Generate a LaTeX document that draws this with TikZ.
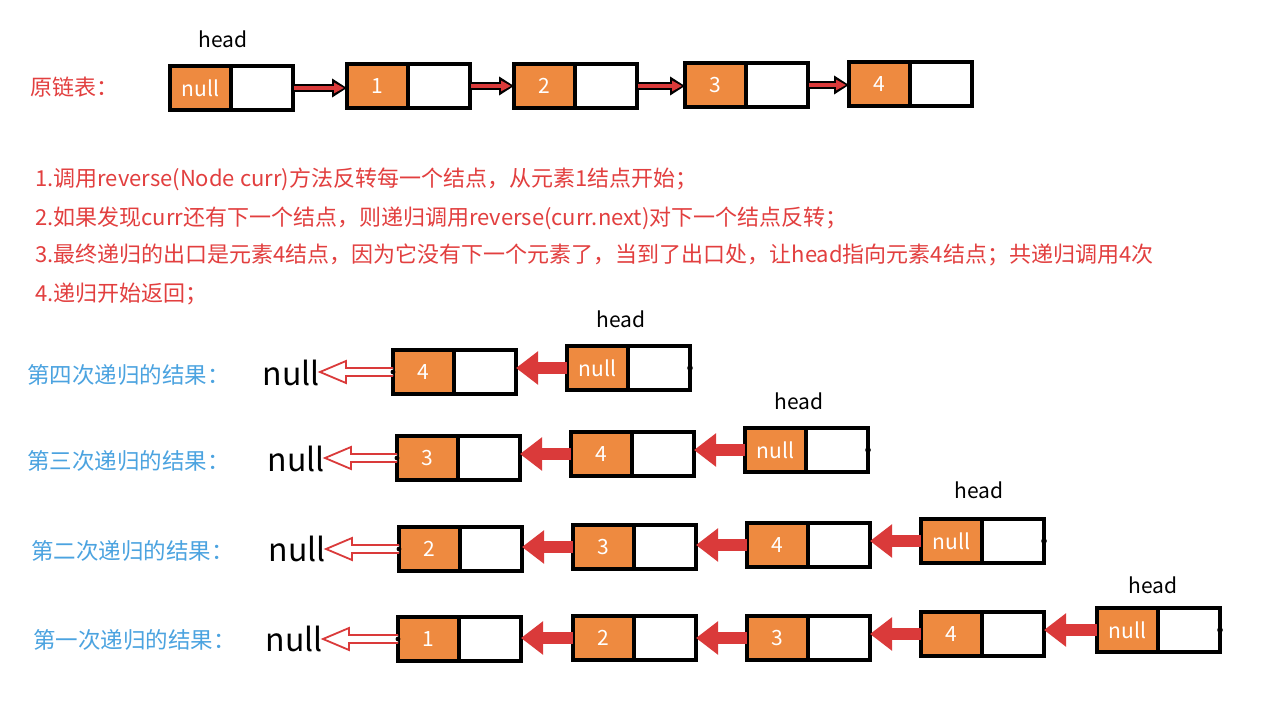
\documentclass[tikz,border=0pt]{standalone}
\usepackage{fontspec}
\setmainfont{Noto Sans CJK SC}
\usetikzlibrary{arrows.meta,calc}
\definecolor{nodeorange}{HTML}{EE8A40}
\definecolor{arrowred}{HTML}{DA3A3A}
\definecolor{notered}{HTML}{E23F3F}
\definecolor{noteblue}{HTML}{4BA3E0}

% one list node: orange value cell (#1-v) followed by the pointer cell (#1)
\newcommand\listnode[4]{%
  \node[valpart, anchor=north west] (#1-v) at (#2,#3) {#4};
  \node[ptrpart, anchor=north west] (#1) at (#1-v.north east) {};
}
% thick red pointer from the value cell of #1 back to the pointer cell of #2
\newcommand\backptr[2]{%
  \draw[backarrow] (#1-v.west) -- (#1-v.west -| #2.east);
}
% hollow arrow from the first node of a row to its "null" text
\newcommand\nullptr[2]{%
  \coordinate (#2-tip) at (#2.east |- #1-v.west);
  \draw[hollow] ($(#1-v.west)+(0,-4)$) -- ($(#2-tip)+(26,-4)$) -- ($(#2-tip)+(26,-11)$)
    -- (#2-tip) -- ($(#2-tip)+(26,11)$) -- ($(#2-tip)+(26,4)$) -- ($(#1-v.west)+(0,4)$);
  \fill (#1-v.west) circle (2.4pt);
}
% forward pointer of the original list: black rim with red core
\newcommand\fwdptr[2]{%
  \draw[line width=8pt, -{Triangle[length=15pt,width=18pt]}] (#1.east) -- (#1.east -| #2-v.west);
  \draw[line width=4pt, arrowred, shorten <=1pt, shorten >=3pt, -{Triangle[length=10pt,width=10pt]}]
    (#1.east) -- (#1.east -| #2-v.west);
}

\begin{document}
\begin{tikzpicture}[x=1pt, y=-1pt,
  valpart/.style={draw=black, fill=nodeorange, line width=3.2pt, minimum width=61pt,
    minimum height=44pt, inner sep=0pt, outer sep=0pt, text=white,
    font=\fontsize{21}{21}\selectfont},
  ptrpart/.style={draw=black, fill=white, line width=3.2pt, minimum width=62pt,
    minimum height=44pt, inner sep=0pt, outer sep=0pt},
  backarrow/.style={arrowred, line width=12pt, -{Triangle[length=22pt,width=32pt]}},
  hollow/.style={draw=arrowred, fill=white, line width=1.8pt, line join=miter},
  headtxt/.style={font=\fontsize{21}{21}\selectfont, text=black},
  bignull/.style={font=\fontsize{32}{32}\selectfont, text=black, anchor=east, inner sep=0pt},
  redtxt/.style={font=\fontsize{22}{22}\selectfont, text=notered, anchor=west, inner sep=0pt},
  bluetxt/.style={font=\fontsize{22.5}{22.5}\selectfont, text=noteblue, anchor=west, inner sep=0pt}
]
\useasboundingbox (0,0) rectangle (1274,708);
\fill[white] (0,0) rectangle (1274,708);

% original list
\node[redtxt] (orig) at (30,87) {原链表：};
\node[headtxt] (h0) at (223,39) {head};
\listnode{n0}{170}{66}{null}
\listnode{n1}{347}{64}{1}
\listnode{n2}{514}{64}{2}
\listnode{n3}{685}{63}{3}
\listnode{n4}{849}{62}{4}
\fwdptr{n0}{n1}
\fwdptr{n1}{n2}
\fwdptr{n2}{n3}
\fwdptr{n3}{n4}

% explanation
\node[redtxt] (s1) at (35,179) {1.调用reverse(Node curr)方法反转每一个结点，从元素1结点开始；};
\node[redtxt] (s2) at (35,218) {2.如果发现curr还有下一个结点，则递归调用reverse(curr.next)对下一个结点反转；};
\node[redtxt] (s3) at (35,255) {3.最终递归的出口是元素4结点，因为它没有下一个元素了，当到了出口处，让head指向元素4结点；共递归调用4次};
\node[redtxt] (s4) at (35,294) {4.递归开始返回；};

% fourth recursion
\node[bluetxt] (la) at (27,375) {第四次递归的结果：};
\node[bignull] (a0) at (320,373) {null};
\node[headtxt] (ha) at (621,319) {head};
\listnode{a4}{393}{350}{4}
\listnode{an}{567}{346}{null}
\backptr{an}{a4}
\nullptr{a4}{a0}
\fill (an.east) circle (2.8pt);

% third recursion
\node[bluetxt] (lb) at (27,461) {第三次递归的结果：};
\node[bignull] (b0) at (325,459) {null};
\node[headtxt] (hb) at (799,401) {head};
\listnode{b3}{397}{436}{3}
\listnode{b4}{571}{432}{4}
\listnode{bn}{745}{428}{null}
\backptr{b4}{b3}
\backptr{bn}{b4}
\nullptr{b3}{b0}
\fill (bn.east) circle (2.8pt);

% second recursion
\node[bluetxt] (lc) at (31,551) {第二次递归的结果：};
\node[bignull] (c0) at (326,549) {null};
\node[headtxt] (hc) at (979,490) {head};
\listnode{c2}{399}{527}{2}
\listnode{c3}{573}{525}{3}
\listnode{c4}{747}{523}{4}
\listnode{cn}{921}{519}{null}
\backptr{c3}{c2}
\backptr{c4}{c3}
\backptr{cn}{c4}
\nullptr{c2}{c0}
\fill (cn.east) circle (2.8pt);

% first recursion
\node[bluetxt] (ld) at (33,640) {第一次递归的结果：};
\node[bignull] (d0) at (323,639) {null};
\node[headtxt] (hd) at (1153,585) {head};
\listnode{d1}{398}{617}{1}
\listnode{d2}{573}{616}{2}
\listnode{d3}{747}{616}{3}
\listnode{d4}{921}{612}{4}
\listnode{dn}{1097}{608}{null}
\backptr{d2}{d1}
\backptr{d3}{d2}
\backptr{d4}{d3}
\backptr{dn}{d4}
\nullptr{d1}{d0}
\fill (dn.east) circle (2.8pt);
\end{tikzpicture}
\end{document}
